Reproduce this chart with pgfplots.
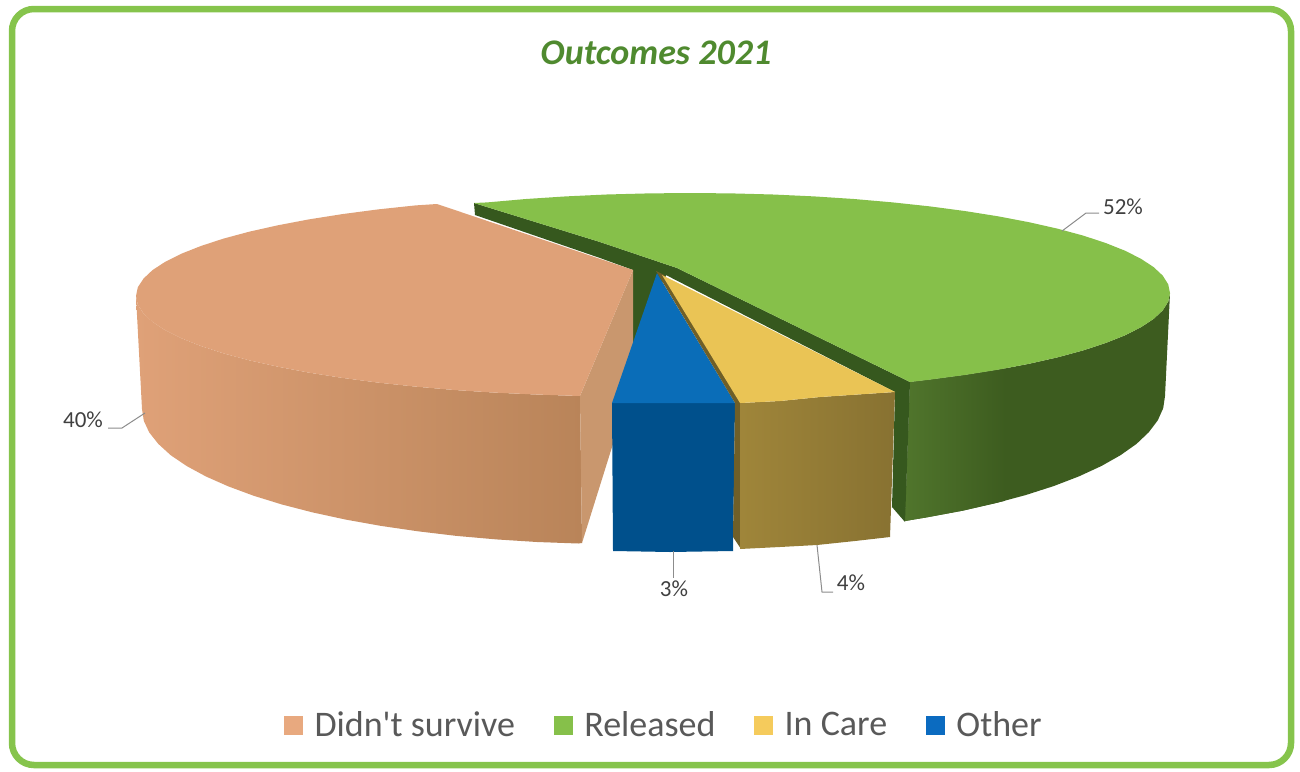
\documentclass[border=0pt]{standalone}
\usepackage{fontspec}
\setmainfont{Carlito}[Ligatures=TeXOff]
\usepackage{pgfplots}
\pgfplotsset{compat=1.18}
\definecolor{frame}{HTML}{86C44C}
\definecolor{titlegreen}{HTML}{4F8A2F}
\definecolor{peach}{HTML}{DFA178}
\definecolor{peachmid}{HTML}{D59C71}
\definecolor{peachend}{HTML}{B98459}
\definecolor{peachwall}{HTML}{C9976E}
\definecolor{leaf}{HTML}{86C04A}
\definecolor{leafdark}{HTML}{3D5C1F}
\definecolor{leafband}{HTML}{36581E}
\definecolor{leafrim}{HTML}{50752C}
\definecolor{honey}{HTML}{EAC455}
\definecolor{olive}{HTML}{6F5F28}
\definecolor{sea}{HTML}{0A6DB8}
\definecolor{seadark}{HTML}{00508C}
\definecolor{keypeach}{HTML}{E8A97F}
\definecolor{keyhoney}{HTML}{F5CB5C}
\definecolor{keysea}{HTML}{0B6BC0}
\definecolor{leader}{HTML}{8C8C8C}
\begin{document}
\begin{tikzpicture}
\useasboundingbox (0,0) rectangle (1300pt,771pt);
\begin{axis}[
  scale only axis, width=1300pt, height=771pt,
  xmin=0, xmax=1300, ymin=0, ymax=771,
  y dir=reverse, hide axis, clip=false,
  legend columns=4,
  legend cell align=left,
  legend style={draw=none, fill=none, at={(axis cs:664,725)}, anchor=center,
    font=\fontsize{36}{36}\selectfont\color{black!65},
    /tikz/every even column/.append style={column sep=37pt},
    inner sep=0pt, outer sep=0pt},
  legend image code/.code={\fill[draw=none,#1] (0pt,-9.5pt) rectangle (19pt,9.5pt); \path (28pt,0pt);},
]
% frame
\addplot[frame, line width=6.5pt, rounded corners=22pt, forget plot] coordinates {
  (12,9) (1291,9) (1291,765) (12,765)} -- cycle;

% released: rim, cut wall, top
\addplot[draw=none, fill=leafdark, forget plot] coordinates {
  (910,382) (930,379.6) (965.3,374.9) (998.6,369.6) (1029.4,363.7) (1057.7,357.3) (1083.2,350.4) (1105.7,343)
  (1125,335.3) (1141,327.2) (1153.6,318.9) (1162.7,310.4) (1168.2,301.7) (1170,293)
  (1165,396) (1163.2,408.2) (1157.8,420.3) (1148.8,432.2) (1136.5,443.9) (1120.5,455.2) (1101.4,466) (1079.1,476.3)
  (1053.9,486) (1025.9,495) (995.4,503.2) (962.5,510.7) (927.5,517.2) (905,521)} -- cycle;
\addplot[draw=none, left color=leafrim, right color=leafdark, forget plot] coordinates {
  (910,382) (930,379.6) (965.3,374.9) (1005,368.5) (1005,500.8) (962.5,510.7) (927.5,517.2) (905,521)} -- cycle;
\addplot[draw=none, fill=leafband, forget plot] coordinates {
  (474,203) (475,215) (600,258) (633,270) (660,272) (895,392) (892,507) (905,522) (910,382) (677,268) (600,242)} -- cycle;
\addplot[draw=none, fill=leafband, forget plot] coordinates {
  (633,258) (668,272) (657,292) (633,365)} -- cycle;
\addplot[draw=none, fill=leaf, forget plot] coordinates {
  (474,203) (487.2,202.4) (526,199) (565.8,196.4) (606.6,194.5) (648.2,193.4) (690,193) (731.8,193.4) (773,194.5)
  (814.2,196.4) (854,199) (892.8,202.4) (930,206.4) (965.3,211.1) (998.6,216.4) (1029.4,222.3) (1057.7,228.7)
  (1083.2,235.6) (1105.7,243) (1125,250.7) (1141,258.8) (1153.6,267.1) (1162.7,275.6) (1168.2,284.3) (1170,293)
  (1168.2,301.7) (1162.7,310.4) (1153.6,318.9) (1141,327.2) (1125,335.3) (1105.7,343) (1083.2,350.4) (1057.7,357.3)
  (1029.4,363.7) (998.6,369.6) (965.3,374.9) (930,379.6) (910,382) (677,268) (600,242)} -- cycle;

% didn't survive: rim, cut wall, top
\addplot[draw=none, left color=peach, middle color=peachmid, right color=peachend, forget plot] coordinates {
  (136,296) (137.8,304.7) (143.5,313.4) (152.5,321.9) (165.2,330.2) (181.4,338.3) (200.9,346) (223.5,353.4) (249.2,360.3)
  (277.8,366.7) (308.8,372.6) (342.4,377.9) (378,382.6) (415.5,386.6) (454.5,390) (494.7,392.6) (536,394.5) (580,396)
  (582,543) (578.3,543.5) (537,542) (496.3,539.4) (456.5,535.9) (418,531.3) (381,525.9) (345.8,519.6) (312.6,512.4)
  (282,504.5) (253.8,495.8) (228.4,486.4) (206,476.5) (186.8,466.1) (170.7,455.2) (158.3,443.9) (149.2,432.4) (143.8,420.8) (142,409)} -- cycle;
\addplot[draw=none, fill=peachwall, forget plot] coordinates {
  (633,270) (633,380) (582,543) (580,396)} -- cycle;
\addplot[draw=none, fill=peach, forget plot] coordinates {
  (437,204) (415.5,205.4) (378,209.4) (342.4,214.1) (308.8,219.4) (277.8,225.3) (249.2,231.7) (223.5,238.6) (200.9,246)
  (181.4,253.7) (165.2,261.8) (152.5,270.1) (143.5,278.6) (137.8,287.3) (136,296)
  (137.8,304.7) (143.5,313.4) (152.5,321.9) (165.2,330.2) (181.4,338.3) (200.9,346) (223.5,353.4) (249.2,360.3)
  (277.8,366.7) (308.8,372.6) (342.4,377.9) (378,382.6) (415.5,386.6) (454.5,390) (494.7,392.6) (536,394.5) (580,396)
  (633,270)} -- cycle;

% other
\addplot[draw=none, fill=seadark, forget plot] coordinates {
  (612,403) (735,403) (733,551) (670,552) (613,551)} -- cycle;
\addplot[draw=none, fill=sea, forget plot] coordinates {
  (657,273) (735,403) (612,403)} -- cycle;

% in care
\addplot[draw=none, fill=olive, forget plot] coordinates {
  (656,271) (664,275) (741,403) (741,549) (733,537) (735,403)} -- cycle;
\addplot[draw=none, left color=honey!68!black, right color=honey!58!black, forget plot] coordinates {
  (740,403) (780,401) (820,397) (895,392) (890,537) (855,541) (817,545) (780,547) (740,549)} -- cycle;
\addplot[draw=none, fill=honey, forget plot] coordinates {
  (662,275) (895,392) (820,397) (780,401) (740,403)} -- cycle;

% leader lines
\addplot[leader, line width=1pt, forget plot] coordinates {(1062,231) (1086,213) (1099,213)};
\addplot[leader, line width=1pt, forget plot] coordinates {(145,413) (122,428) (108,428)};
\addplot[leader, line width=1pt, forget plot] coordinates {(673,551) (673,578)};
\addplot[leader, line width=1pt, forget plot] coordinates {(817,545) (822,592) (833,592)};

% data labels
\node[font=\fontsize{23}{23}\selectfont, text=black!75] at (axis cs:1123,207) {52\%};
\node[font=\fontsize{23}{23}\selectfont, text=black!75] at (axis cs:83,420) {40\%};
\node[font=\fontsize{23}{23}\selectfont, text=black!75] at (axis cs:674,589) {3\%};
\node[font=\fontsize{23}{23}\selectfont, text=black!75] at (axis cs:851,583) {4\%};

% title
\node[font=\fontsize{36}{36}\selectfont\bfseries\itshape, text=titlegreen] at (axis cs:656,53) {Outcomes 2021};

% legend
\addlegendimage{fill=keypeach}
\addlegendentry{Didn't survive}
\addlegendimage{fill=leaf}
\addlegendentry{Released}
\addlegendimage{fill=keyhoney}
\addlegendentry{In Care}
\addlegendimage{fill=keysea}
\addlegendentry{Other}
\end{axis}
\end{tikzpicture}
\end{document}
